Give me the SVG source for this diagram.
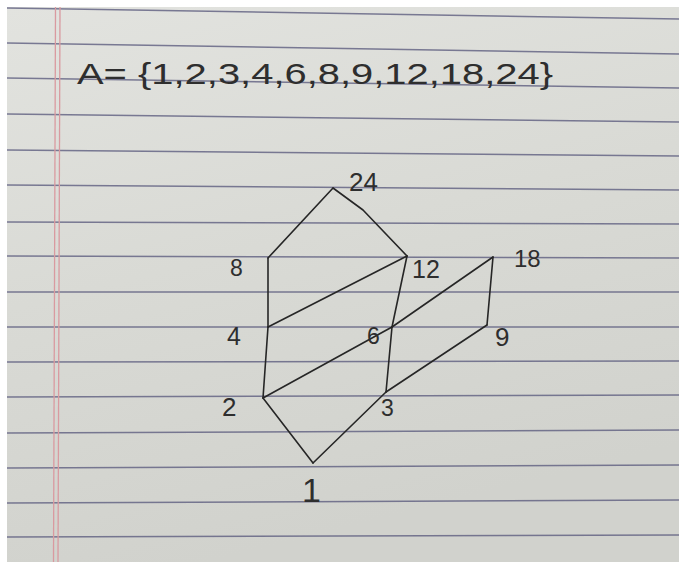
<svg xmlns="http://www.w3.org/2000/svg" width="679" height="562" viewBox="0 0 679 562">
<defs>
<linearGradient id="paper" x1="0" y1="0" x2="0.3" y2="1">
<stop offset="0" stop-color="#e2e3df"/>
<stop offset="0.5" stop-color="#d9dad5"/>
<stop offset="1" stop-color="#d1d2cd"/>
</linearGradient>
<style>
.rule{stroke:#5e5e80;stroke-width:1.5;fill:none;opacity:0.8}
.margin{stroke:#d99aa0;stroke-width:1.3;fill:none}
.edge{stroke:#262626;stroke-width:1.6;fill:none;stroke-linecap:round;stroke-linejoin:round}
.lbl{font-family:"Liberation Sans","DejaVu Sans",sans-serif;fill:#2e2e2e}
</style>
</defs>
<rect x="0" y="0" width="679" height="562" fill="#ffffff"/>
<g id="paper-sheet">
<rect x="7" y="7" width="672" height="555" fill="url(#paper)"/>
<g id="rules">
<line class="rule" x1="7" y1="8" x2="679" y2="19"/>
<line class="rule" x1="7" y1="43" x2="679" y2="54"/>
<line class="rule" x1="7" y1="78" x2="679" y2="88"/>
<line class="rule" x1="7" y1="114" x2="679" y2="122"/>
<line class="rule" x1="7" y1="150" x2="679" y2="156"/>
<line class="rule" x1="7" y1="185" x2="679" y2="190"/>
<line class="rule" x1="7" y1="222" x2="679" y2="224"/>
<line class="rule" x1="7" y1="256" x2="679" y2="258"/>
<line class="rule" x1="7" y1="292" x2="679" y2="292"/>
<line class="rule" x1="7" y1="327" x2="679" y2="327"/>
<line class="rule" x1="7" y1="362" x2="679" y2="361"/>
<line class="rule" x1="7" y1="397" x2="679" y2="395"/>
<line class="rule" x1="7" y1="433" x2="679" y2="430"/>
<line class="rule" x1="7" y1="468" x2="679" y2="465"/>
<line class="rule" x1="7" y1="503" x2="679" y2="500"/>
<line class="rule" x1="7" y1="537" x2="679" y2="535"/>
</g>
<line class="margin" x1="55.5" y1="7" x2="53.5" y2="562"/>
<line class="margin" x1="60" y1="7" x2="58" y2="562"/>
</g>
<text id="title" class="lbl" x="77" y="84" font-size="30" textLength="476" lengthAdjust="spacingAndGlyphs">A= {1,2,3,4,6,8,9,12,18,24}</text>
<g id="connectors">
<path class="edge" d="M313,463 L263,398"/>
<path class="edge" d="M313,463 L386,392"/>
<path class="edge" d="M263,398 L268,327"/>
<path class="edge" d="M268,327 L268,258"/>
<path class="edge" d="M268,258 L333,188"/>
<path class="edge" d="M333,188 L363,210 L407,256"/>
<path class="edge" d="M268,327 L407,256"/>
<path class="edge" d="M407,256 L392,327"/>
<path class="edge" d="M392,327 L386,392"/>
<path class="edge" d="M263,398 L392,327"/>
<path class="edge" d="M392,327 L493,257"/>
<path class="edge" d="M493,257 L487,325"/>
<path class="edge" d="M487,325 L386,392"/>
</g>
<g id="n24"><text class="lbl" x="349" y="191" font-size="26">24</text></g>
<g id="n8"><text class="lbl" x="230" y="276" font-size="23">8</text></g>
<g id="n12"><text class="lbl" x="412" y="278" font-size="25">12</text></g>
<g id="n18"><text class="lbl" x="514" y="267" font-size="24">18</text></g>
<g id="n4"><text class="lbl" x="227" y="345" font-size="25">4</text></g>
<g id="n6"><text class="lbl" x="367" y="344" font-size="23">6</text></g>
<g id="n9"><text class="lbl" x="495" y="346" font-size="26">9</text></g>
<g id="n2"><text class="lbl" x="222" y="416" font-size="26">2</text></g>
<g id="n3"><text class="lbl" x="381" y="416" font-size="23">3</text></g>
<g id="n1"><text class="lbl" x="302" y="502" font-size="34">1</text></g>
</svg>
